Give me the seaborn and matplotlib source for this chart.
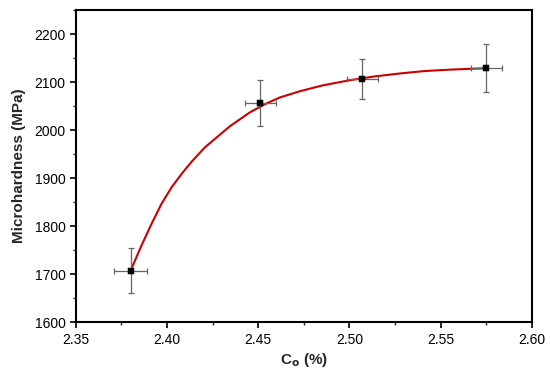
import numpy as np
import pandas as pd
import matplotlib
matplotlib.use('Agg')
import matplotlib.pyplot as plt
from matplotlib.ticker import MultipleLocator, FormatStrFormatter
import seaborn as sns

# measured points
co = [2.380, 2.451, 2.507, 2.575]
hardness = [1707, 2056, 2106, 2129]
hardness_err = [47, 48, 42, 50]
co_err = [0.009, 0.0085, 0.0085, 0.0085]

# fitted curve
fit_co = [2.380, 2.386, 2.3915, 2.397, 2.4025, 2.408, 2.4134, 2.4207,
          2.4344, 2.4454, 2.4536, 2.4618, 2.4728, 2.485, 2.5002, 2.514,
          2.5276, 2.541, 2.555, 2.575]
fit_hardness = [1707, 1760, 1805, 1847, 1881, 1909, 1934, 1964,
                2008, 2037, 2054, 2068, 2081, 2093, 2104, 2112,
                2118, 2123, 2126, 2129]

sns.set_style('ticks')
plt.rcParams['font.family'] = ['Liberation Sans', 'DejaVu Sans']

fig = plt.figure(figsize=(5.5, 3.75), dpi=100)
ax = fig.add_axes([0.138, 0.141, 0.829, 0.832])

fit_df = pd.DataFrame({'Co': fit_co, 'H': fit_hardness})
sns.lineplot(data=fit_df, x='Co', y='H', color='#cc0000', linewidth=1.5,
             ax=ax, zorder=2)

ax.errorbar(co, hardness, yerr=hardness_err, xerr=co_err, fmt='none',
            ecolor='#666666', elinewidth=0.9, capsize=2.5, capthick=0.9,
            zorder=3)
pts = pd.DataFrame({'Co': co, 'H': hardness})
sns.scatterplot(data=pts, x='Co', y='H', marker='s', s=20, color='black',
                edgecolor='black', ax=ax, zorder=4)

ax.set_xlim(2.35, 2.60)
ax.set_ylim(1600, 2250)
ax.xaxis.set_major_locator(MultipleLocator(0.05))
ax.xaxis.set_minor_locator(MultipleLocator(0.025))
ax.yaxis.set_minor_locator(MultipleLocator(50))
ax.set_yticks(np.arange(1600, 2201, 100))
ax.xaxis.set_major_formatter(FormatStrFormatter('%.2f'))

ax.tick_params(which='major', direction='out', length=4, width=1.2,
               labelsize=10, colors='black')
ax.tick_params(which='minor', direction='out', length=2.5, width=1.0)
for s in ax.spines.values():
    s.set_visible(True)
    s.set_linewidth(1.5)
    s.set_color('black')

ax.set_xlabel('C$_\\mathbf{o}$ (%)', fontsize=11, fontweight='bold', labelpad=3)
ax.set_ylabel('Microhardness (MPa)', fontsize=11, fontweight='bold', labelpad=6)

fig.savefig('out.png', dpi=100)
